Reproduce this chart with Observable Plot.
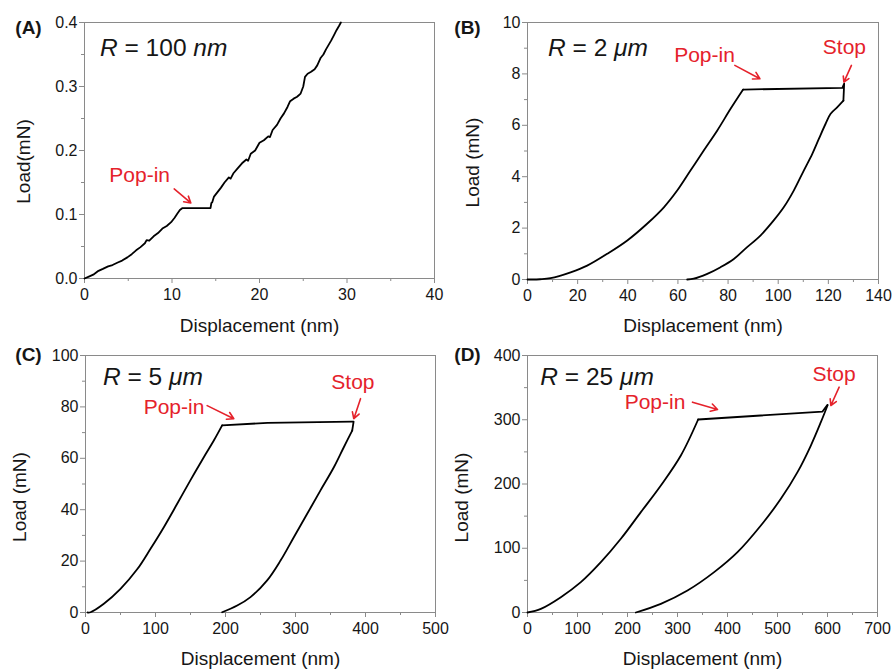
<!DOCTYPE html>
<html>
<head>
<meta charset="utf-8">
<script src="https://cdn.jsdelivr.net/npm/d3@7"></script>
<script src="https://cdn.jsdelivr.net/npm/@observablehq/plot@0.6"></script>
<style>
  body { margin: 0; background: #fff; }
  #wrap { position: relative; width: 892px; height: 670px; overflow: hidden; background: #fff; }
  .panel { position: absolute; width: 446px; height: 335px; }
  .panel svg { overflow: visible; background: transparent !important; }
</style>
</head>
<body>
<div id="wrap"></div>
<script>
// ---------- Panel A: R = 100 nm (single noisy loading record) ----------
const aDisp = [0,0.5,1.0,1.6,2.1,2.7,3.2,3.8,4.3,4.9,5.4,5.9,6.4,6.9,7.1,7.4,7.9,8.4,8.9,9.4,9.9,10.3,10.6,10.9,11.2,14.4,14.5,14.6,14.8,15.2,15.6,16.0,16.5,16.7,17.0,17.5,18.0,18.5,18.7,19.0,19.5,20.0,20.5,21.0,21.2,21.5,22.0,22.4,22.8,23.2,23.5,23.9,24.3,24.7,25.0,25.2,25.5,25.9,26.3,26.6,27.0,27.3,27.6,27.9,28.2,28.5,28.8,29.1,29.3];
const aLoad = [0,0.003,0.006,0.012,0.015,0.019,0.021,0.025,0.028,0.033,0.038,0.044,0.049,0.055,0.060,0.059,0.066,0.071,0.078,0.082,0.088,0.095,0.101,0.107,0.110,0.110,0.118,0.119,0.128,0.135,0.142,0.150,0.158,0.156,0.164,0.172,0.180,0.186,0.184,0.195,0.200,0.212,0.216,0.222,0.221,0.232,0.240,0.250,0.258,0.268,0.277,0.281,0.284,0.289,0.300,0.315,0.320,0.323,0.327,0.333,0.345,0.350,0.358,0.365,0.372,0.380,0.388,0.395,0.400];
const aXMajor = [0,10,20,30,40], aXMinor = [5,15,25,35];
const aYMajor = [0,0.1,0.2,0.3,0.4], aYMinor = [0.05,0.15,0.25,0.35];
const aNoteText = ["Pop-in"], aNoteX = [6.3], aNoteY = [0.161];
const aArrX1 = [10.25], aArrY1 = [0.140], aArrX2 = [12.15], aArrY2 = [0.118];

// ---------- Panel B: R = 2 µm ----------
const bLoadingDisp = [0,1.2,5,9.2,17.2,23.8,31.8,39.8,47.7,54.4,59.7,65.0,70.3,75.7,81.0,86.0];
const bLoadingF    = [0,0,0.01,0.05,0.28,0.54,1.0,1.52,2.17,2.81,3.46,4.24,5.02,5.80,6.64,7.39];
const bHoldDisp = [86.0,125.6,126.3,126.0];
const bHoldF    = [7.39,7.46,7.62,6.96];
const bUnloadDisp = [126.0,123.5,120.9,118.9,116.2,113.6,110.2,106.2,102.2,98.2,92.9,87.6,82.3,77.0,71.7,66.3,63.7];
const bUnloadF    = [6.96,6.70,6.45,6.06,5.47,4.89,4.24,3.46,2.81,2.30,1.71,1.26,0.80,0.48,0.22,0.03,0];
const bXMajor = [0,20,40,60,80,100,120,140], bXMinor = [10,30,50,70,90,110,130];
const bYMajor = [0,2,4,6,8,10], bYMinor = [1,3,5,7,9];
const bNoteText = ["Pop-in","Stop"], bNoteX = [70.6,126.4], bNoteY = [8.72,9.03];
const bArrX1 = [82.7,129.2], bArrY1 = [8.33,8.33], bArrX2 = [92.7,126.2], bArrY2 = [7.81,7.68];

// ---------- Panel C: R = 5 µm ----------
const cLoadingDisp = [3,7.1,26.2,50,73.8,92.9,111.9,131,150,169,183.3,195.2];
const cLoadingF    = [0,0.1,3.4,9.2,16.8,24.8,33.2,42.3,51.5,60.4,66.9,72.8];
const cHoldDisp = [195.2,260,381,383,381];
const cHoldF    = [72.8,73.8,74.3,74.3,70.8];
const cUnloadDisp = [381,369,354.8,335.7,316.7,297.6,278.6,259.5,235.7,216.7,195.2];
const cUnloadF    = [70.8,64.3,56.5,47.5,38.4,29.3,20.2,12.5,6.0,2.7,0.1];
const cXMajor = [0,100,200,300,400,500], cXMinor = [50,150,250,350,450];
const cYMajor = [0,20,40,60,80,100], cYMinor = [10,30,50,70,90];
const cNoteText = ["Pop-in","Stop"], cNoteX = [126.4,382], cNoteY = [79.9,89.6];
const cArrX1 = [173.8,392.9], cArrY1 = [80.5,83.2], cArrX2 = [211.9,383.3], cArrY2 = [75.4,75.4];

// ---------- Panel D: R = 25 µm ----------
const dLoadingDisp = [0,26.7,66.7,106.7,146.7,186.7,226.7,266.7,306.7,341.3];
const dLoadingF    = [0,5.7,23.9,47.2,78.3,114.7,156.2,197.7,244.4,300.4];
const dHoldDisp = [341.3,466.7,590,600];
const dHoldF    = [300.4,306.6,312.8,323.2];
const dUnloadDisp = [600,586.7,566.7,540,506.7,466.7,420,373.3,320,266.7,216.7];
const dUnloadF    = [322.2,296.2,259.9,218.4,176.9,135.4,93.9,62.8,34.2,13.5,0];
const dXMajor = [0,100,200,300,400,500,600,700], dXMinor = [50,150,250,350,450,550,650];
const dYMajor = [0,100,200,300,400], dYMinor = [50,150,250,350];
const dNoteText = ["Pop-in","Stop"], dNoteX = [255,613], dNoteY = [327.4,371.5];
const dArrX1 = [330,623.3], dArrY1 = [327.4,350.7], dArrX2 = [380,606.7], dArrY2 = [316,322.2];

const FONT = 'Arial, "Liberation Sans", Helvetica, sans-serif';
const RED = "#e5222b";
const INK = "#161616";
const AXIS = "#8a8a8a";

const toRows = (xs, ys, seg) => xs.map((d, i) => ({d, f: ys[i], seg}));

function buildPanel(o) {
  const smoothRows = o.smooth.flatMap(([xs, ys, n]) => toRows(xs, ys, n));
  const straightRows = o.straight.flatMap(([xs, ys, n]) => toRows(xs, ys, n));
  const notes = o.noteText.map((t, i) => ({t, x: o.noteX[i], y: o.noteY[i]}));
  const arrows = o.arrX1.map((v, i) => ({x1: v, y1: o.arrY1[i], x2: o.arrX2[i], y2: o.arrY2[i]}));
  const plot = Plot.plot({
    width: 446, height: 335,
    marginLeft: o.m[0], marginRight: o.m[1], marginTop: o.m[2], marginBottom: o.m[3],
    style: {fontFamily: FONT, fontSize: "16px", background: "transparent", color: INK, overflow: "visible"},
    x: {domain: o.xDomain},
    y: {domain: o.yDomain},
    marks: [
      Plot.axisX({ticks: o.xMinor, tickSize: 3, tickFormat: () => "", stroke: AXIS, label: null}),
      Plot.axisX({ticks: o.xMajor, tickSize: 5, tickPadding: 5, stroke: AXIS, fill: INK, label: null, fontSize: 16}),
      Plot.axisY({ticks: o.yMinor, tickSize: 3, tickFormat: () => "", stroke: AXIS, label: null}),
      Plot.axisY({ticks: o.yMajor, tickSize: 5, tickPadding: 2, tickFormat: o.yFmt, stroke: AXIS, fill: INK, label: null, fontSize: 16}),
      Plot.frame({stroke: AXIS}),
      Plot.line(smoothRows, {x: "d", y: "f", z: "seg", stroke: "#000", strokeWidth: 1.8, curve: "catmull-rom"}),
      Plot.line(straightRows, {x: "d", y: "f", z: "seg", stroke: "#000", strokeWidth: 1.8, strokeLinejoin: "round"}),
      Plot.arrow(arrows, {x1: "x1", y1: "y1", x2: "x2", y2: "y2", stroke: RED, strokeWidth: 1.6, headLength: 7}),
      Plot.text(notes, {x: "x", y: "y", text: "t", fill: RED, fontSize: 21}),
      Plot.text([o.letter], {frameAnchor: "top-left", textAnchor: "middle", lineAnchor: "middle", dx: o.letterD[0], dy: o.letterD[1], fontWeight: "bold", fontSize: 19, fill: INK}),
      Plot.text(["Displacement (nm)"], {frameAnchor: "bottom", lineAnchor: "middle", dy: o.xTitleDy, fontSize: 19, fill: INK}),
      Plot.text([o.yTitle], {frameAnchor: "left", textAnchor: "middle", lineAnchor: "middle", rotate: -90, dx: o.yTitleD[0], dy: o.yTitleD[1], fontSize: 19, fill: INK})
    ]
  });
  const sx = plot.scale("x"), sy = plot.scale("y");
  const t = d3.select(plot).append("text")
    .attr("x", sx.apply(o.rX)).attr("y", sy.apply(o.rY))
    .attr("text-anchor", "start")
    .attr("font-size", 24.5).attr("font-family", FONT).attr("fill", INK)
    .style("white-space", "pre");
  t.append("tspan").attr("font-style", "italic").text("R");
  t.append("tspan").text(" = " + o.rNum + " ");
  t.append("tspan").attr("font-style", "italic").text(o.rUnit);
  const div = document.createElement("div");
  div.className = "panel";
  div.style.left = o.pos[0] + "px";
  div.style.top = o.pos[1] + "px";
  div.appendChild(plot);
  document.getElementById("wrap").appendChild(div);
}

buildPanel({
  pos: [0, 0], m: [84, 12, 22, 57], xDomain: [0, 40], yDomain: [0, 0.4],
  smooth: [], straight: [[aDisp, aLoad, "load"]],
  xMajor: aXMajor, xMinor: aXMinor, yMajor: aYMajor, yMinor: aYMinor,
  yFmt: d3.format(".1f"), noteText: aNoteText, noteX: aNoteX, noteY: aNoteY,
  arrX1: aArrX1, arrY1: aArrY1, arrX2: aArrX2, arrY2: aArrY2,
  letter: "(A)", letterD: [-56, 5], xTitleDy: 47.5, yTitle: "Load(mN)", yTitleD: [-60.5, 11],
  rX: 1.83, rY: 0.347, rNum: "100", rUnit: "nm"
});
buildPanel({
  pos: [446, 0], m: [81, 14, 22, 56], xDomain: [0, 140], yDomain: [0, 10],
  smooth: [[bLoadingDisp, bLoadingF, "load"], [bUnloadDisp, bUnloadF, "unload"]],
  straight: [[bHoldDisp, bHoldF, "hold"]],
  xMajor: bXMajor, xMinor: bXMinor, yMajor: bYMajor, yMinor: bYMinor,
  yFmt: d3.format("d"), noteText: bNoteText, noteX: bNoteX, noteY: bNoteY,
  arrX1: bArrX1, arrY1: bArrY1, arrX2: bArrX2, arrY2: bArrY2,
  letter: "(B)", letterD: [-60, 5.8], xTitleDy: 46, yTitle: "Load (mN)", yTitleD: [-55, 11.5],
  rX: 8.4, rY: 8.68, rNum: "2", rUnit: "μm"
});
buildPanel({
  pos: [0, 335], m: [85, 11, 20, 58], xDomain: [0, 500], yDomain: [0, 100],
  smooth: [[cLoadingDisp, cLoadingF, "load"], [cUnloadDisp, cUnloadF, "unload"]],
  straight: [[cHoldDisp, cHoldF, "hold"]],
  xMajor: cXMajor, xMinor: cXMinor, yMajor: cYMajor, yMinor: cYMinor,
  yFmt: d3.format("d"), noteText: cNoteText, noteX: cNoteX, noteY: cNoteY,
  arrX1: cArrX1, arrY1: cArrY1, arrX2: cArrX2, arrY2: cArrY2,
  letter: "(C)", letterD: [-57, -0.3], xTitleDy: 46, yTitle: "Load (mN)", yTitleD: [-65.5, 13],
  rX: 25.7, rY: 88.3, rNum: "5", rUnit: "μm"
});
buildPanel({
  pos: [446, 335], m: [81, 15, 20, 58], xDomain: [0, 700], yDomain: [0, 400],
  smooth: [[dLoadingDisp, dLoadingF, "load"], [dUnloadDisp, dUnloadF, "unload"]],
  straight: [[dHoldDisp, dHoldF, "hold"]],
  xMajor: dXMajor, xMinor: dXMinor, yMajor: dYMajor, yMinor: dYMinor,
  yFmt: d3.format("d"), noteText: dNoteText, noteX: dNoteX, noteY: dNoteY,
  arrX1: dArrX1, arrY1: dArrY1, arrX2: dArrX2, arrY2: dArrY2,
  letter: "(D)", letterD: [-60, -0.3], xTitleDy: 46, yTitle: "Load (mN)", yTitleD: [-65.5, 13.5],
  rX: 26.6, rY: 353.3, rNum: "25", rUnit: "μm"
});
</script>
</body>
</html>
